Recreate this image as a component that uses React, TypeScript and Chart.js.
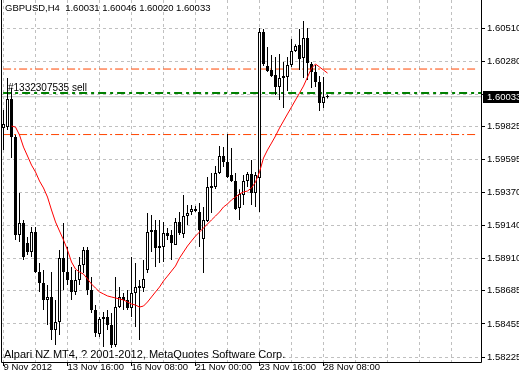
import React, { useEffect, useRef } from 'react';
import { Chart, registerables } from 'chart.js';

Chart.register(...registerables);

const FONT = '"Liberation Sans", Arial, sans-serif';

const SYMBOL_TITLE = 'GBPUSD,H4  1.60031 1.60046 1.60020 1.60033';
const COPYRIGHT = 'Alpari NZ MT4, ? 2001-2012, MetaQuotes Software Corp.';
const ORDER_LABEL = '#1332307535 sell';

const OPEN = [
  1.59815, 1.59822, 1.60017, 1.59753, 1.59072, 1.59156, 1.59017, 1.58954, 1.59093, 1.58815,
  1.58739, 1.58621, 1.58642, 1.58413, 1.58468, 1.58912, 1.58815, 1.58760, 1.58677, 1.58760,
  1.58864, 1.58968, 1.58691, 1.58552, 1.58385, 1.58489, 1.58503, 1.58447, 1.58308, 1.58572,
  1.58642, 1.58621, 1.58565, 1.58670, 1.58718, 1.58704, 1.58829, 1.59107, 1.59107, 1.58996,
  1.58989, 1.59086, 1.59072, 1.59003, 1.59163, 1.59079, 1.59204, 1.59232, 1.59253, 1.59232,
  1.59044, 1.59170, 1.59412, 1.59405, 1.59503, 1.59621, 1.59579, 1.59489, 1.59447, 1.59260,
  1.59350, 1.59447, 1.59496, 1.59364, 1.59468, 1.60482, 1.60246, 1.60218, 1.60183, 1.60100,
  1.60163, 1.60169, 1.60253, 1.60350, 1.60392, 1.60302, 1.60441, 1.60260, 1.60204, 1.60135,
  1.59989, 1.60031,
];
const HIGH = [
  1.59941, 1.60163, 1.60093, 1.59767, 1.59364, 1.59177, 1.59058, 1.59128, 1.59128, 1.58878,
  1.58829, 1.58725, 1.58815, 1.58621, 1.58968, 1.59156, 1.58989, 1.58850, 1.58829, 1.58920,
  1.58989, 1.58989, 1.58780, 1.58586, 1.58503, 1.58538, 1.58552, 1.58531, 1.58780, 1.58711,
  1.58670, 1.58691, 1.58920, 1.58878, 1.58760, 1.58899, 1.59225, 1.59211, 1.59177, 1.59177,
  1.59163, 1.59121, 1.59107, 1.59190, 1.59232, 1.59350, 1.59281, 1.59281, 1.59274, 1.59295,
  1.59267, 1.59475, 1.59503, 1.59551, 1.59690, 1.59683, 1.59774, 1.59676, 1.59503, 1.59391,
  1.59489, 1.59510, 1.59593, 1.59510, 1.60510, 1.60503, 1.60378, 1.60322, 1.60308, 1.60329,
  1.60274, 1.60308, 1.60434, 1.60398, 1.60503, 1.60558, 1.60510, 1.60274, 1.60253, 1.60176,
  1.60169, 1.60046,
];
const LOW = [
  1.59663, 1.59802, 1.59607, 1.59038, 1.59024, 1.58899, 1.58934, 1.58920, 1.58809, 1.58677,
  1.58552, 1.58447, 1.58343, 1.58308, 1.58378, 1.58691, 1.58725, 1.58621, 1.58656, 1.58725,
  1.58809, 1.58656, 1.58531, 1.58364, 1.58364, 1.58294, 1.58413, 1.58287, 1.58294, 1.58565,
  1.58552, 1.58552, 1.58503, 1.58433, 1.58343, 1.58677, 1.58809, 1.58954, 1.58850, 1.58878,
  1.58885, 1.59038, 1.58899, 1.59003, 1.59072, 1.59051, 1.59142, 1.59211, 1.59232, 1.58989,
  1.58809, 1.59163, 1.59225, 1.59392, 1.59496, 1.59544, 1.59468, 1.59440, 1.59246, 1.59177,
  1.59281, 1.59405, 1.59281, 1.59267, 1.59232, 1.60246, 1.60205, 1.60169, 1.60045, 1.60010,
  1.59954, 1.60072, 1.60239, 1.60343, 1.60218, 1.60163, 1.60149, 1.60093, 1.60100, 1.59934,
  1.59954, 1.60020,
];
const CLOSE = [
  1.59843, 1.60017, 1.59753, 1.59072, 1.59156, 1.58920, 1.58954, 1.59093, 1.58815, 1.58739,
  1.58621, 1.58642, 1.58413, 1.58468, 1.58912, 1.58815, 1.58760, 1.58677, 1.58760, 1.58864,
  1.58968, 1.58691, 1.58552, 1.58392, 1.58489, 1.58503, 1.58447, 1.58308, 1.58572, 1.58642,
  1.58621, 1.58565, 1.58670, 1.58711, 1.58704, 1.58766, 1.59093, 1.59093, 1.58982, 1.58982,
  1.59086, 1.59065, 1.59017, 1.59163, 1.59086, 1.59204, 1.59225, 1.59253, 1.59239, 1.59107,
  1.59177, 1.59405, 1.59399, 1.59503, 1.59621, 1.59579, 1.59475, 1.59447, 1.59253, 1.59357,
  1.59447, 1.59496, 1.59364, 1.59489, 1.60482, 1.60260, 1.60212, 1.60176, 1.60100, 1.60163,
  1.60176, 1.60253, 1.60350, 1.60385, 1.60295, 1.60441, 1.60267, 1.60204, 1.60135, 1.59989,
  1.60031, 1.60033,
];

const MA_START = 2;
const MA = [
  1.59829, 1.59822, 1.59767, 1.59683, 1.59621, 1.59558, 1.59510, 1.59447, 1.59399, 1.59336,
  1.59246, 1.59163, 1.59100, 1.59038, 1.58968, 1.58885, 1.58836, 1.58815, 1.58801, 1.58767,
  1.58732, 1.58704, 1.58677, 1.58663, 1.58649, 1.58642, 1.58635, 1.58628, 1.58621, 1.58607,
  1.58593, 1.58586, 1.58572, 1.58579, 1.58607, 1.58642, 1.58677, 1.58711, 1.58753, 1.58787,
  1.58822, 1.58857, 1.58912, 1.58954, 1.58996, 1.59031, 1.59065, 1.59093, 1.59121, 1.59149,
  1.59177, 1.59204, 1.59232, 1.59267, 1.59288, 1.59316, 1.59336, 1.59357, 1.59371, 1.59378,
  1.59399, 1.59440, 1.59510, 1.59607, 1.59663, 1.59711, 1.59760, 1.59815, 1.59864, 1.59913,
  1.59961, 1.60010, 1.60058, 1.60107, 1.60169, 1.60232, 1.60260, 1.60239, 1.60218, 1.60197,
];

const BID = 1.60033;
const ORDER_PRICE = 1.60059;
const STOP_LEVELS = [1.60225, 1.5977];

const PRICE_TICKS = [
  1.58225, 1.58455, 1.58685, 1.5891, 1.5914, 1.5937, 1.59595, 1.59825, 1.6005, 1.6028, 1.6051,
];
const HIDDEN_PRICE_TICK = 1.6005;

const GRID_BAR_TICKS = [0, 8, 16, 24, 32, 40, 48, 56, 64, 72, 80, 88, 96, 104, 112];
const DATE_TICK_IDX = [0, 16, 32, 48, 64, 80];
const DATE_TICK_LABELS = [
  '9 Nov 2012', '13 Nov 16:00', '16 Nov 08:00', '21 Nov 00:00', '23 Nov 16:00', '28 Nov 08:00',
];

const X_MIN = -0.625;
const X_MAX = 119.375;
const LEVEL_X0 = -0.1;
const LEVEL_X1 = 118.6;
const Y_MAX = 1.607045;
const Y_MIN = 1.581904;

export default function App() {
  const ref = useRef<HTMLCanvasElement>(null);

  useEffect(() => {
    document.body.style.margin = '0';
    const canvas = ref.current;
    if (!canvas) return;

    const idx = OPEN.map((_, i) => i);
    const wickData = idx.map((i) => ({ x: i, y: [LOW[i], HIGH[i]] }));
    const bodyData = idx.map((i) => ({ x: i, y: [OPEN[i], CLOSE[i]] }));
    const bodyColors = idx.map((i) => (CLOSE[i] >= OPEN[i] ? '#FFFFFF' : '#000000'));
    const maData = MA.map((v, k) => ({ x: MA_START + k, y: v }));
    const hLine = (v: number, x0: number, x1: number) => [
      { x: x0, y: v },
      { x: x1, y: v },
    ];

    const overlay = {
      id: 'mt4overlay',
      afterDatasetsDraw(chart: any) {
        const { ctx, chartArea, scales } = chart;
        ctx.save();
        ctx.fillStyle = '#000';
        ctx.font = `10px ${FONT}`;
        ctx.textBaseline = 'alphabetic';
        ctx.textAlign = 'left';
        ctx.fillText(ORDER_LABEL, chartArea.left + 7, Math.round(scales.y.getPixelForValue(ORDER_PRICE)) - 2);
        ctx.restore();
      },
      afterDraw(chart: any) {
        const { ctx, chartArea, scales } = chart;
        ctx.save();
        ctx.strokeStyle = '#000';
        ctx.lineWidth = 1;
        ctx.beginPath();
        ctx.moveTo(chartArea.left + 0.5, chartArea.top);
        ctx.lineTo(chartArea.left + 0.5, chartArea.bottom + 0.5);
        ctx.lineTo(chartArea.right + 0.5, chartArea.bottom + 0.5);
        ctx.lineTo(chartArea.right + 0.5, chartArea.top);
        ctx.stroke();
        ctx.fillStyle = '#000';
        ctx.textAlign = 'left';
        ctx.textBaseline = 'alphabetic';
        ctx.font = `9.5px ${FONT}`;
        ctx.fillText(SYMBOL_TITLE, 5, 11);
        ctx.font = `11px ${FONT}`;
        ctx.fillText(COPYRIGHT, 4, chartArea.bottom - 4);
        const by = Math.round(scales.y.getPixelForValue(BID));
        ctx.fillStyle = '#000';
        ctx.fillRect(chartArea.right + 2, by - 6, 40, 12);
        ctx.fillStyle = '#FFF';
        ctx.font = `9.5px ${FONT}`;
        ctx.textBaseline = 'middle';
        ctx.fillText(BID.toFixed(5), chartArea.right + 6, by + 0.5);
        ctx.restore();
      },
    };

    const chart = new Chart(canvas, {
      type: 'bar',
      data: {
        datasets: [
          {
            type: 'line',
            data: hLine(BID, X_MIN, X_MAX),
            borderColor: '#C0C0C0',
            borderWidth: 1,
            pointRadius: 0,
            order: 12,
          },
          {
            type: 'line',
            data: hLine(STOP_LEVELS[0], LEVEL_X0, LEVEL_X1),
            borderColor: '#FF4500',
            borderWidth: 1,
            borderDash: [8, 3, 2, 3],
            pointRadius: 0,
            order: 10,
          },
          {
            type: 'line',
            data: hLine(STOP_LEVELS[1], LEVEL_X0, LEVEL_X1),
            borderColor: '#FF4500',
            borderWidth: 1,
            borderDash: [8, 3, 2, 3],
            pointRadius: 0,
            order: 10,
          },
          {
            type: 'line',
            data: hLine(ORDER_PRICE, LEVEL_X0, X_MAX),
            borderColor: '#008000',
            borderWidth: 2,
            borderDash: [8, 4, 3, 4],
            pointRadius: 0,
            order: 9,
          },
          {
            type: 'bar',
            data: wickData as any,
            backgroundColor: '#000',
            borderWidth: 0,
            barThickness: 1,
            grouped: false,
            inflateAmount: 0,
            order: 5,
          } as any,
          {
            type: 'bar',
            data: bodyData as any,
            backgroundColor: bodyColors,
            borderColor: '#000',
            borderWidth: 1,
            borderSkipped: false,
            barThickness: 3,
            minBarLength: 1,
            grouped: false,
            inflateAmount: 0,
            order: 4,
          } as any,
          {
            type: 'line',
            data: maData,
            borderColor: '#FF0000',
            borderWidth: 1,
            pointRadius: 0,
            tension: 0,
            order: 1,
          },
        ],
      },
      options: {
        animation: false,
        responsive: false,
        devicePixelRatio: 1,
        layout: { padding: { left: 1, right: 0, top: 0, bottom: 0 } },
        plugins: { legend: { display: false }, tooltip: { enabled: false } },
        scales: {
          x: {
            type: 'linear',
            min: X_MIN,
            max: X_MAX,
            offset: false,
            afterBuildTicks: (s: any) => {
              s.ticks = GRID_BAR_TICKS.map((v) => ({ value: v }));
            },
            afterFit: (s: any) => {
              s.height = 16;
              s.paddingLeft = 0;
              s.paddingRight = 0;
            },
            grid: {
              offset: false,
              color: '#C0C0C0',
              lineWidth: 1,
              drawTicks: true,
              tickLength: 4,
              tickWidth: 1,
              tickColor: (c: any) =>
                c.tick && DATE_TICK_IDX.includes(c.tick.value) ? '#000' : 'rgba(0,0,0,0)',
            },
            border: { display: false, dash: [3, 3] },
            ticks: {
              autoSkip: false,
              maxRotation: 0,
              minRotation: 0,
              align: 'start',
              padding: -4,
              color: '#000',
              font: { family: FONT, size: 9.5 },
              callback: (v: any) => {
                const k = DATE_TICK_IDX.indexOf(Number(v));
                return k >= 0 ? DATE_TICK_LABELS[k] : '';
              },
            },
          },
          y: {
            type: 'linear',
            position: 'right',
            min: Y_MIN,
            max: Y_MAX,
            beginAtZero: false,
            afterBuildTicks: (s: any) => {
              s.ticks = PRICE_TICKS.map((v) => ({ value: v }));
            },
            afterFit: (s: any) => {
              s.width = 38;
              s.paddingTop = 0;
              s.paddingBottom = 0;
            },
            grid: {
              color: '#C0C0C0',
              lineWidth: 1,
              drawTicks: true,
              tickLength: 4,
              tickWidth: 1,
              tickColor: '#000',
            },
            border: { display: false, dash: [3, 3] },
            ticks: {
              autoSkip: false,
              padding: 2,
              color: '#000',
              font: { family: FONT, size: 9.5 },
              callback: (v: any) =>
                Math.abs(Number(v) - HIDDEN_PRICE_TICK) < 1e-9 ? '' : Number(v).toFixed(5),
            },
          },
        },
      },
      plugins: [overlay],
    } as any);

    return () => chart.destroy();
  }, []);

  return (
    <div style={{ width: 519, height: 378, position: 'relative', background: '#fff' }}>
      <canvas ref={ref} width={519} height={378} style={{ display: 'block', width: 519, height: 378 }} />
    </div>
  );
}
